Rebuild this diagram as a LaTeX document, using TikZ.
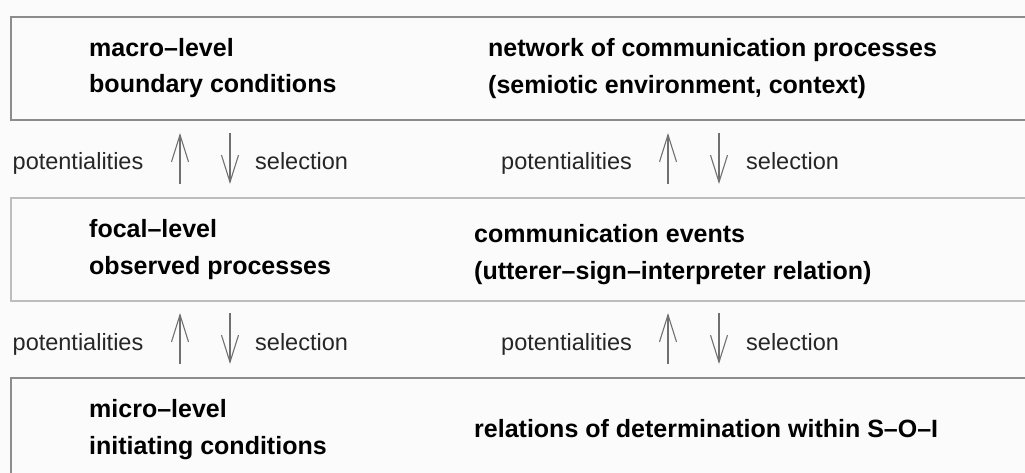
\documentclass[tikz,border=0pt]{standalone}
\usepackage{fontspec}
\setmainfont{Liberation Sans}
\usetikzlibrary{arrows.meta}
\definecolor{paper}{HTML}{FBFBFB}
\definecolor{rimdark}{HTML}{8C8C8C}
\definecolor{rimlight}{HTML}{BDBDBD}
\definecolor{arrowgray}{HTML}{707070}
\definecolor{labelgray}{HTML}{262626}
\begin{document}
\begin{tikzpicture}[x=1pt,y=-1pt,
  levelbox/.style={draw=#1,line width=1.6pt,fill=paper,anchor=north west,
    minimum width=1040pt,inner sep=0pt,outer sep=0pt},
  levelbox/.default=rimdark,
  boxtext/.style={anchor=base west,inner sep=0pt,font=\fontsize{25}{30}\selectfont\bfseries,text=black},
  flowtext/.style={anchor=base west,inner sep=0pt,font=\fontsize{23.5}{28}\selectfont,text=labelgray},
  flow/.style={draw=arrowgray,line width=1.1pt,-{Straight Barb[length=27pt,width=17pt]}}]
% page and clipping frame
\useasboundingbox (0,0) rectangle (1025,473);
\fill[paper] (0,0) rectangle (1025,473);
\clip (0,0) rectangle (1025,473);

% the three levels
\node[levelbox, minimum height=103pt] (macro) at (11,17) {};
\node[levelbox=rimlight, minimum height=103pt] (focal) at (11,198) {};
\node[levelbox, minimum height=140pt] (micro) at (11,378) {};

% level descriptions
\node[boxtext] (macroA) at (89,56.5) {macro\textendash level};
\node[boxtext] (macroB) at (89,93) {boundary conditions};
\node[boxtext] (netA) at (488,56.5) {network of communication processes};
\node[boxtext] (netB) at (488,94) {(semiotic environment, context)};

\node[boxtext] (focalA) at (89,237.5) {focal\textendash level};
\node[boxtext] (focalB) at (89,274) {observed processes};
\node[boxtext] (eventA) at (474,243) {communication events};
\node[boxtext] (eventB) at (474,279) {(utterer\textendash sign\textendash interpreter relation)};

\node[boxtext] (microA) at (89,417.5) {micro\textendash level};
\node[boxtext] (microB) at (89,454) {initiating conditions};
\node[boxtext] (relA) at (474,437) {relations of determination within S\textendash O\textendash I};

% upper transition: arrow end points
\coordinate (uLa) at (180,184); \coordinate (uLb) at (180,133);
\coordinate (dLa) at (230,133); \coordinate (dLb) at (230,184);
\coordinate (uRa) at (668,184); \coordinate (uRb) at (668,133);
\coordinate (dRa) at (719,133); \coordinate (dRb) at (719,184);
% lower transition: arrow end points
\coordinate (lLa) at (180,364); \coordinate (lLb) at (180,313);
\coordinate (mLa) at (230,313); \coordinate (mLb) at (230,364);
\coordinate (lRa) at (668,364); \coordinate (lRb) at (668,313);
\coordinate (mRa) at (719,313); \coordinate (mRb) at (719,364);

\draw[flow] (uLa) -- (uLb);
\draw[flow] (dLa) -- (dLb);
\draw[flow] (uRa) -- (uRb);
\draw[flow] (dRa) -- (dRb);
\draw[flow] (lLa) -- (lLb);
\draw[flow] (mLa) -- (mLb);
\draw[flow] (lRa) -- (lRb);
\draw[flow] (mRa) -- (mRb);

% transition labels
\node[flowtext] (potUL) at (12.5,170) {potentialities};
\node[flowtext] (selUL) at (255,170) {selection};
\node[flowtext] (potUR) at (501,170) {potentialities};
\node[flowtext] (selUR) at (746,170) {selection};
\node[flowtext] (potLL) at (12.5,350) {potentialities};
\node[flowtext] (selLL) at (255,350) {selection};
\node[flowtext] (potLR) at (501,350) {potentialities};
\node[flowtext] (selLR) at (746,350) {selection};
\end{tikzpicture}
\end{document}
